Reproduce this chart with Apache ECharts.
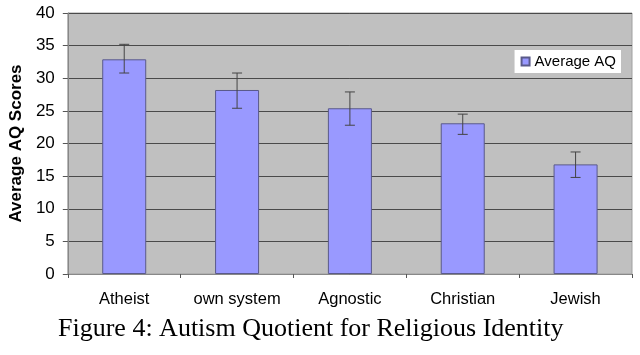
<!DOCTYPE html>
<html><head><meta charset="utf-8">
<script src="https://cdn.jsdelivr.net/npm/echarts@6/dist/echarts.min.js"></script>
<style>html,body{margin:0;padding:0;background:#fff}#c{width:640px;height:355px}</style>
</head><body><div id="c"></div>
<script>
const categories = ['Atheist', 'own system', 'Agnostic', 'Christian', 'Jewish'];
const averageAQ = [32.9, 28.2, 25.4, 23.1, 16.8];
const errorHigh = [35.2, 30.8, 27.9, 24.5, 18.7];
const errorLow = [30.8, 25.4, 22.8, 21.4, 14.8];
const yTicks = [0, 5, 10, 15, 20, 25, 30, 35, 40];

const chart = echarts.init(document.getElementById('c'), null, {renderer: 'canvas'});
const errData = categories.map((c, i) => [i, errorLow[i], errorHigh[i]]);
chart.setOption({
  animation: false,
  backgroundColor: '#fff',
  title: {
    text: 'Figure 4: Autism Quotient for Religious Identity',
    left: 53, top: 311,
    textStyle: {fontFamily: 'Liberation Serif', fontSize: 26, fontWeight: 'normal', color: '#000'}
  },
  legend: {
    data: ['Average AQ'],
    right: 19, top: 50,
    backgroundColor: '#fff',
    padding: [4, 5, 4, 6],
    itemWidth: 8, itemHeight: 8, itemGap: 4,
    icon: 'rect',
    textStyle: {fontFamily: 'Liberation Sans', fontSize: 15, color: '#000'}
  },
  grid: {left: 66, right: 8, top: 13, bottom: 81, show: true, backgroundColor: '#c0c0c0', borderColor: '#a0a0a0', borderWidth: 1},
  xAxis: {
    type: 'category', data: categories,
    axisLine: {lineStyle: {color: '#888', width: 1}},
    axisTick: {show: true, length: 4, lineStyle: {color: '#555'}},
    axisLabel: {fontFamily: 'Liberation Sans', fontSize: 16.5, color: '#000', margin: 17, interval: 0, hideOverlap: false}
  },
  yAxis: {
    type: 'value', min: 0, max: 40, interval: 5,
    name: 'Average AQ Scores', nameLocation: 'middle', nameGap: 41,
    nameTextStyle: {fontFamily: 'Liberation Sans', fontSize: 17, fontWeight: 'bold', color: '#000'},
    axisLine: {show: true, lineStyle: {color: '#888'}},
    axisTick: {show: true, length: 5, lineStyle: {color: '#555'}},
    axisLabel: {fontFamily: 'Liberation Sans', fontSize: 17, color: '#000', margin: 13,
      formatter: v => yTicks.includes(v) ? String(v) : ''},
    splitLine: {lineStyle: {color: '#4a4a4a', width: 1}}
  },
  series: [
    {
      name: 'Average AQ', type: 'bar', data: averageAQ, barWidth: '39%',
      itemStyle: {color: '#9999ff', borderColor: '#5a5a8a', borderWidth: 1}
    },
    {
      name: 'err', type: 'custom', data: errData, z: 10,
      renderItem: function (params, api) {
        const x = api.value(0);
        const lo = api.coord([x, api.value(1)]);
        const hi = api.coord([x, api.value(2)]);
        const hw = 5;
        const st = {stroke: '#444', lineWidth: 1};
        return {type: 'group', children: [
          {type: 'line', shape: {x1: lo[0], y1: lo[1], x2: hi[0], y2: hi[1]}, style: st},
          {type: 'line', shape: {x1: lo[0]-hw, y1: lo[1], x2: lo[0]+hw, y2: lo[1]}, style: st},
          {type: 'line', shape: {x1: hi[0]-hw, y1: hi[1], x2: hi[0]+hw, y2: hi[1]}, style: st}
        ]};
      }
    }
  ]
});
</script></body></html>
